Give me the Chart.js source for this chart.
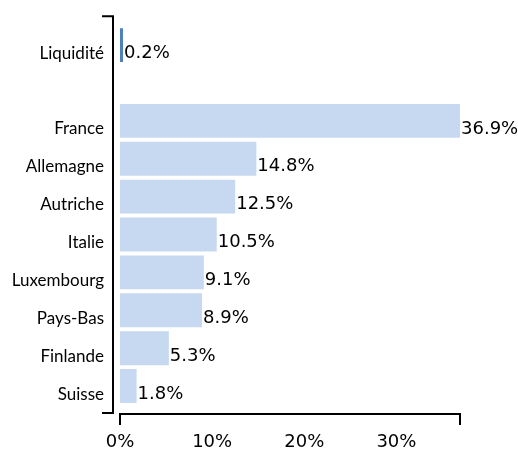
<!DOCTYPE html>
<html>
<head>
<meta charset="utf-8">
<script src="https://cdn.jsdelivr.net/npm/chart.js@4.4.1/dist/chart.umd.min.js"></script>
<style>
  html, body { margin: 0; padding: 0; background: #ffffff; }
  #wrap { width: 518px; height: 450px; }
</style>
</head>
<body>
<div id="wrap"><canvas id="chart" width="518" height="450"></canvas></div>
<script>
// Répartition par pays (%)
const categories = ["Liquidité", "", "France", "Allemagne", "Autriche", "Italie", "Luxembourg", "Pays-Bas", "Finlande", "Suisse"];
const values = [0.2, null, 36.9, 14.8, 12.5, 10.5, 9.1, 8.9, 5.3, 1.8];
const tickValues = [0, 10, 20, 30];

const barColors = categories.map((c, i) => i === 0 ? "#4f81bd" : "#c6d9f1");

// Axis lines with end caps, like the original
const axisLines = {
  id: "axisLines",
  afterDraw(chart) {
    const ctx = chart.ctx;
    const a = chart.chartArea;
    const x0 = chart.scales.x.getPixelForValue(0);
    const x1 = chart.scales.x.getPixelForValue(chart.scales.x.max);
    ctx.save();
    ctx.strokeStyle = "#000000";
    ctx.lineWidth = 2;
    // y axis
    const yx = a.left - 7;
    ctx.beginPath();
    ctx.moveTo(yx - 11, a.top - 10);
    ctx.lineTo(yx, a.top - 10);
    ctx.lineTo(yx, a.bottom + 8);
    ctx.lineTo(yx - 11, a.bottom + 8);
    ctx.stroke();
    // x axis
    const xy = a.bottom + 9;
    ctx.beginPath();
    ctx.moveTo(x0, xy + 11);
    ctx.lineTo(x0, xy);
    ctx.lineTo(x1, xy);
    ctx.lineTo(x1, xy + 11);
    ctx.stroke();
    ctx.restore();
  }
};

// Value labels at the end of each bar
const valueLabels = {
  id: "valueLabels",
  afterDatasetsDraw(chart) {
    const ctx = chart.ctx;
    const meta = chart.getDatasetMeta(0);
    ctx.save();
    ctx.font = "18px 'DejaVu Sans'";
    ctx.fillStyle = "#000000";
    ctx.textAlign = "left";
    ctx.textBaseline = "middle";
    meta.data.forEach((bar, i) => {
      const v = values[i];
      if (v === null) return;
      ctx.fillText(v.toFixed(1) + "%", bar.x + 1, bar.y + 8);
    });
    ctx.restore();
  }
};

new Chart(document.getElementById("chart"), {
  type: "bar",
  data: {
    labels: categories,
    datasets: [{
      data: values,
      backgroundColor: barColors,
      borderWidth: 0,
      minBarLength: 3,
      barPercentage: 0.895,
      categoryPercentage: 1.0
    }]
  },
  options: {
    indexAxis: "y",
    responsive: false,
    animation: false,
    layout: { padding: { top: 25, right: 58, bottom: 0, left: 0 } },
    plugins: {
      legend: { display: false },
      tooltip: { enabled: false }
    },
    scales: {
      x: {
        min: 0,
        max: 36.9,
        border: { display: false },
        grid: { display: false, drawTicks: false },
        afterFit: (s) => { s.height = 45; },
        afterBuildTicks: (s) => { s.ticks = tickValues.map(v => ({ value: v })); },
        ticks: {
          padding: 27,
          color: "#000000",
          font: { family: "DejaVu Sans", size: 18 },
          callback: (v) => v + "%"
        }
      },
      y: {
        border: { display: false },
        grid: { display: false, drawTicks: false },
        afterFit: (s) => { s.width = 120; },
        ticks: {
          padding: 16,
          labelOffset: 8,
          color: "#000000",
          font: { family: "Lato", size: 17 }
        }
      }
    }
  },
  plugins: [axisLines, valueLabels]
});
</script>
</body>
</html>
